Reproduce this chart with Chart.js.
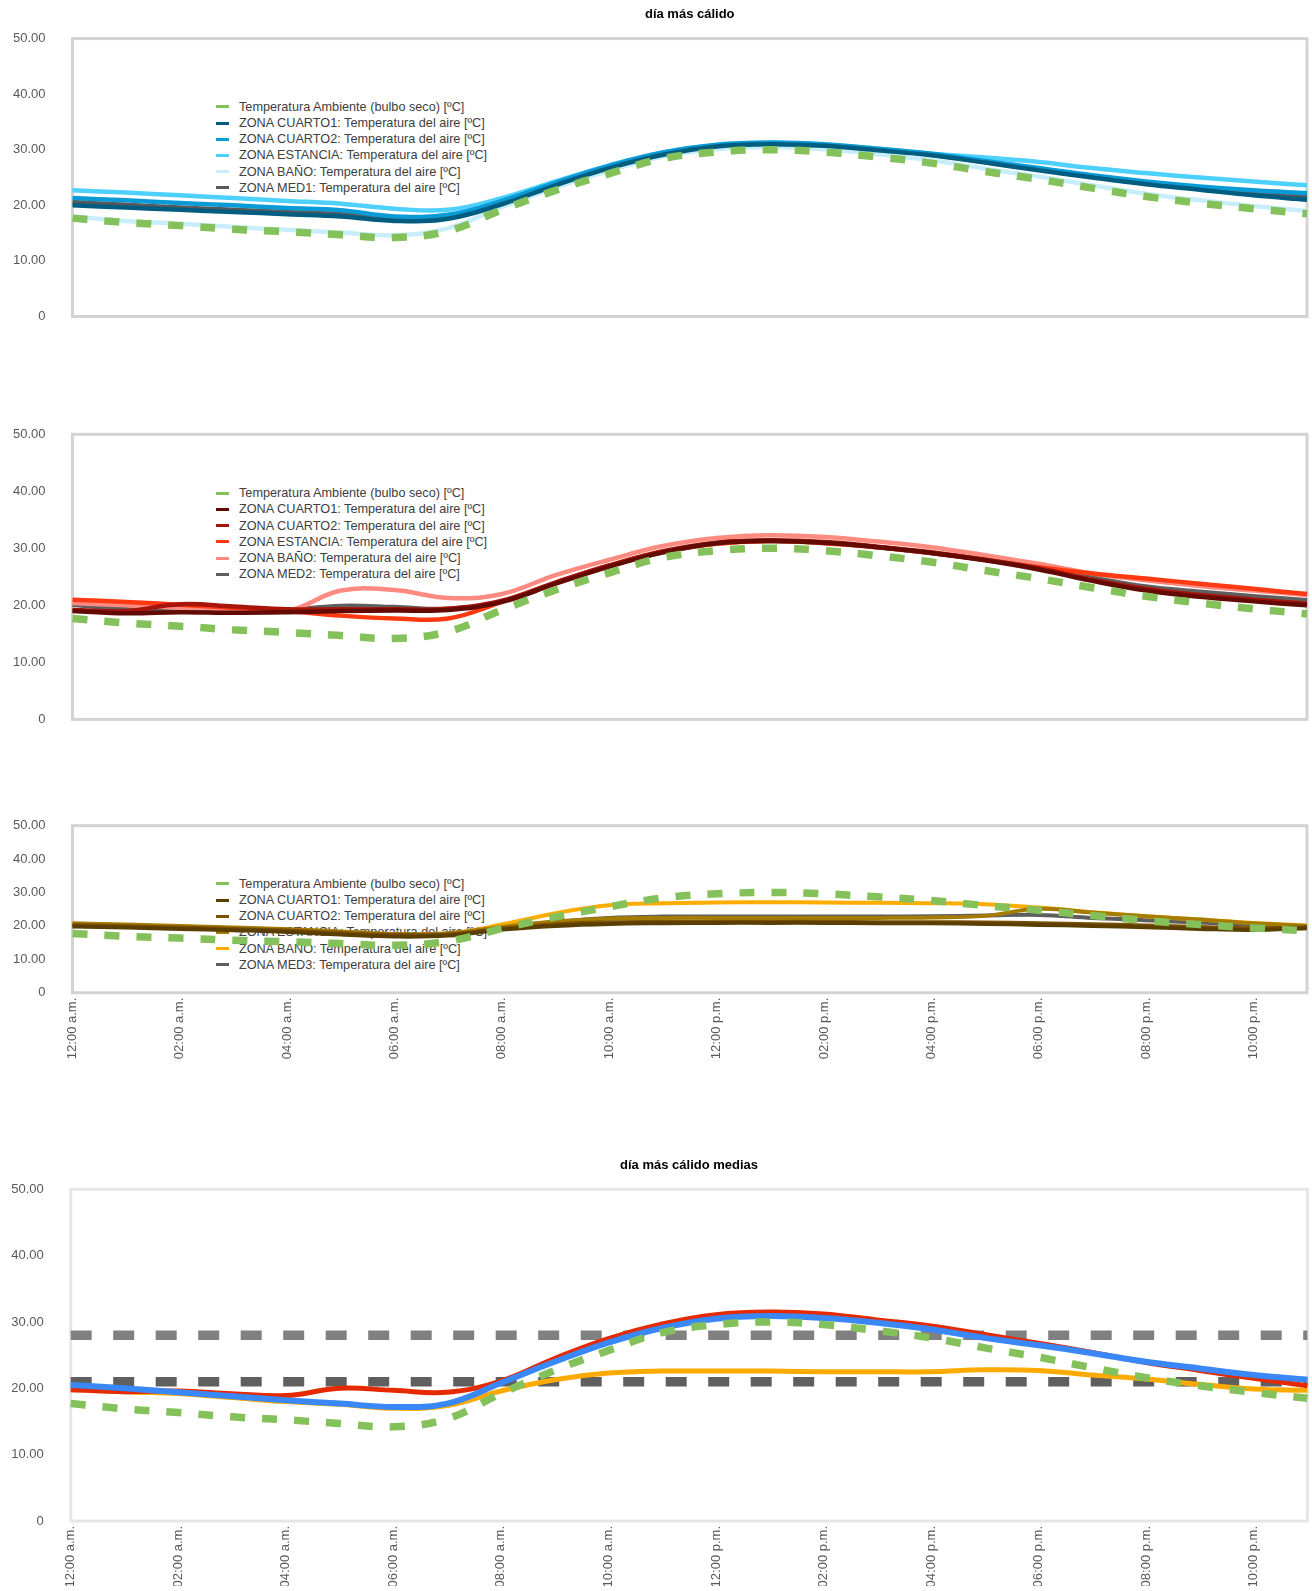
<!DOCTYPE html>
<html lang="es">
<head>
<meta charset="utf-8">
<title>día más cálido</title>
<script src="https://cdn.jsdelivr.net/npm/chart.js@4.4.1/dist/chart.umd.min.js"></script>
<style>
  html, body { margin: 0; padding: 0; background: #fff; }
  body { width: 1312px; height: 1591px; position: relative; overflow: hidden;
         font-family: 'Liberation Sans', Arial, Helvetica, sans-serif; }
  .panel { position: absolute; left: 0; width: 1312px; }
  .panel canvas { position: absolute; left: 0; top: 0; z-index: 1; }
  .legend { position: absolute; z-index: 0; font-size: 12.7px; color: #404040; }
  .legend div { position: relative; height: 16.2px; line-height: 16.2px; padding-left: 23px; white-space: nowrap; }
  .legend span { position: absolute; left: 0; top: 6.6px; width: 13px; height: 3px; }
</style>
</head>
<body>

<div class="panel" id="p1" style="top:0;height:330px;">
  <div class="legend" id="lg1" style="left:216px;top:98.9px;"></div>
  <canvas id="c1" width="1312" height="330"></canvas>
</div>
<div class="panel" id="p2" style="top:410px;height:320px;">
  <div class="legend" id="lg2" style="left:216px;top:75.2px;"></div>
  <canvas id="c2" width="1312" height="320"></canvas>
</div>
<div class="panel" id="p3" style="top:810px;height:260px;">
  <div class="legend" id="lg3" style="left:216px;top:65.9px;"></div>
  <canvas id="c3" width="1312" height="260"></canvas>
</div>
<div class="panel" id="p4" style="top:1140px;height:451px;">
  <canvas id="c4" width="1312" height="451"></canvas>
</div>

<script>
// Hourly time labels for the hottest day
const horas = [
  '12:00 a.m.', '01:00 a.m.', '02:00 a.m.', '03:00 a.m.', '04:00 a.m.', '05:00 a.m.',
  '06:00 a.m.', '07:00 a.m.', '08:00 a.m.', '09:00 a.m.', '10:00 a.m.', '11:00 a.m.',
  '12:00 p.m.', '01:00 p.m.', '02:00 p.m.', '03:00 p.m.', '04:00 p.m.', '05:00 p.m.',
  '06:00 p.m.', '07:00 p.m.', '08:00 p.m.', '09:00 p.m.', '10:00 p.m.', '11:00 p.m.'
];

// Outdoor dry-bulb temperature [ºC]
const tempAmbiente = [17.7, 16.9, 16.35, 15.7, 15.25, 14.7, 14.2, 15.4, 19.2, 22.7, 25.7, 28.4,
                      29.6, 30.0, 29.6, 28.7, 27.6, 26.1, 24.7, 23.1, 21.6, 20.4, 19.4, 18.5];

// Dwelling 1 zones [ºC]
const v1Cuarto1  = [20.0, 19.6, 19.2, 18.8, 18.4, 18.0, 17.2, 17.6, 20.2, 23.6, 26.7, 29.1,
                    30.6, 31.0, 30.7, 29.9, 29.0, 27.7, 26.3, 25.0, 23.8, 22.8, 21.8, 21.0];
const v1Cuarto2  = [21.3, 20.9, 20.4, 20.0, 19.5, 19.1, 18.0, 18.3, 20.8, 24.1, 27.1, 29.5,
                    30.9, 31.3, 31.0, 30.2, 29.3, 28.0, 26.7, 25.4, 24.3, 23.4, 22.7, 22.2];
const v1Estancia = [22.7, 22.3, 21.8, 21.3, 20.8, 20.3, 19.4, 19.2, 21.3, 24.3, 27.2, 29.5,
                    30.8, 31.2, 30.9, 30.2, 29.3, 28.6, 27.8, 26.7, 25.8, 25.0, 24.3, 23.6];
const v1Bano     = [18.0, 17.2, 16.7, 16.1, 15.6, 15.1, 14.6, 15.9, 19.7, 23.2, 26.2, 28.8,
                    30.1, 30.5, 30.1, 29.2, 28.1, 26.6, 25.2, 23.6, 22.1, 20.9, 19.9, 19.0];
const v1Med      = [20.6, 20.1, 19.6, 19.2, 18.8, 18.4, 17.6, 17.9, 20.4, 23.8, 26.9, 29.3,
                    30.7, 31.1, 30.8, 30.0, 29.1, 27.8, 26.5, 25.2, 24.1, 23.1, 22.2, 21.6];

// Dwelling 2 zones [ºC]
const v2Cuarto1  = [19.0, 18.6, 18.8, 18.7, 18.8, 19.0, 19.1, 19.2, 20.6, 23.8, 26.8, 29.3,
                    30.9, 31.3, 31.0, 30.2, 29.2, 27.9, 26.3, 24.3, 22.6, 21.5, 20.7, 20.0];
const v2Cuarto2  = [19.2, 19.0, 20.2, 19.8, 19.3, 19.3, 19.3, 19.4, 20.8, 24.0, 27.0, 29.5,
                    31.0, 31.4, 31.1, 30.3, 29.3, 28.0, 26.5, 24.5, 22.9, 21.8, 21.0, 20.3];
const v2Estancia = [21.0, 20.6, 20.1, 19.6, 19.0, 18.2, 17.7, 17.7, 20.6, 24.0, 27.0, 29.4,
                    30.8, 31.3, 30.9, 30.2, 29.2, 28.0, 26.7, 25.6, 24.7, 23.8, 22.9, 22.0];
const v2Bano     = [20.4, 20.0, 19.6, 19.3, 19.0, 22.6, 22.7, 21.3, 22.0, 25.3, 28.0, 30.4,
                    31.8, 32.3, 32.0, 31.2, 30.2, 28.8, 27.3, 25.6, 24.4, 23.4, 22.6, 21.8];
const v2Med      = [20.1, 19.3, 18.9, 19.0, 19.2, 19.9, 19.7, 19.4, 20.7, 23.9, 26.9, 29.3,
                    30.9, 31.3, 31.0, 30.2, 29.2, 28.0, 26.7, 24.9, 23.3, 22.4, 21.6, 20.9];

// Dwelling 3 zones [ºC]
const v3Cuarto1  = [19.8, 19.5, 19.1, 18.7, 18.2, 17.4, 16.8, 17.1, 18.9, 20.0, 20.6, 20.8,
                    20.9, 20.9, 20.9, 20.8, 20.8, 20.6, 20.3, 20.0, 19.6, 19.1, 18.8, 19.3];
const v3Cuarto2  = [20.3, 19.9, 19.5, 19.1, 18.6, 17.9, 17.3, 17.4, 19.2, 20.5, 21.1, 21.2,
                    21.2, 21.2, 21.2, 21.1, 21.1, 21.0, 20.8, 20.5, 20.1, 19.7, 19.3, 19.6];
const v3Estancia = [20.8, 20.4, 20.0, 19.5, 19.0, 18.3, 17.6, 17.8, 19.7, 21.3, 22.2, 22.4,
                    22.4, 22.4, 22.4, 22.4, 22.5, 23.0, 25.1, 24.0, 22.9, 21.9, 20.8, 20.0];
const v3Bano     = [20.6, 20.2, 19.8, 19.3, 18.8, 18.1, 17.3, 17.6, 20.4, 23.8, 26.2, 26.8,
                    27.0, 27.1, 27.0, 26.9, 26.8, 26.5, 25.5, 24.1, 22.9, 21.9, 20.9, 20.1];
const v3Med      = [20.4, 20.0, 19.6, 19.1, 18.6, 18.0, 17.4, 17.6, 19.6, 21.2, 22.4, 22.8,
                    22.8, 22.8, 22.8, 22.8, 22.9, 23.1, 23.3, 22.4, 21.7, 21.0, 20.3, 19.8];

// Mean zone temperature of each dwelling [ºC]
const mediaV1 = [20.5, 20.0, 19.4, 18.8, 18.2, 17.7, 17.2, 17.7, 20.8, 24.0, 26.9, 29.1,
                 30.5, 30.9, 30.6, 29.9, 28.9, 27.6, 26.5, 25.3, 24.0, 23.0, 22.0, 21.3];
const mediaV2 = [19.8, 19.5, 19.6, 19.2, 18.9, 20.0, 19.7, 19.4, 21.1, 24.5, 27.5, 29.7,
                 31.1, 31.5, 31.2, 30.3, 29.4, 28.1, 26.8, 25.4, 23.9, 22.7, 21.5, 20.4];
const mediaV3 = [20.0, 19.5, 19.2, 18.6, 18.0, 17.6, 17.0, 17.4, 19.6, 21.3, 22.3, 22.6,
                 22.6, 22.6, 22.5, 22.5, 22.5, 22.8, 22.7, 22.0, 21.4, 20.6, 19.9, 19.7];

// Comfort band limits [ºC]
const confortMax = 28;
const confortMin = 21;

// Y axis ticks
const ejeY = { min: 0, max: 50, paso: 10 };

Chart.defaults.font.family = "'Liberation Sans', Arial, Helvetica, sans-serif";
Chart.defaults.animation = false;

// Frame around the plot area
const marco = {
  id: 'marco',
  beforeDatasetsDraw(chart, args, opts) {
    const { left, top, right, bottom } = chart.chartArea;
    const ctx = chart.ctx;
    ctx.save();
    ctx.strokeStyle = opts.color;
    ctx.lineWidth = opts.width;
    ctx.strokeRect(left, top, right - left, bottom - top);
    ctx.restore();
  }
};

function serieAmbiente() {
  return {
    label: 'Temperatura Ambiente (bulbo seco) [ºC]',
    data: tempAmbiente,
    borderColor: '#84c15a',
    backgroundColor: '#84c15a',
    borderWidth: 7.5,
    borderDash: [15, 17],
    borderCapStyle: 'butt'
  };
}

function serie(label, data, color, width) {
  return { label, data, borderColor: color, backgroundColor: color, borderWidth: width || 4.5 };
}

function escalaY(ancho) {
  return {
    min: ejeY.min, max: ejeY.max,
    ticks: {
      stepSize: ejeY.paso, padding: 27, color: '#595959', font: { size: 13 },
      callback: v => v === 0 ? '0' : v.toFixed(2)
    },
    grid: { display: false, drawTicks: false },
    border: { display: false },
    afterFit(s) { s.width = ancho; s.paddingTop = 0; s.paddingBottom = 0; }
  };
}

function escalaX(visible, alto) {
  if (!visible) return { display: false };
  return {
    ticks: {
      autoSkip: false, maxRotation: 90, minRotation: 90, padding: 5,
      color: '#595959', font: { size: 13 },
      callback(value, index) { return index % 2 === 0 ? this.getLabelForValue(value) : ''; }
    },
    grid: { display: false, drawTicks: false },
    border: { display: false },
    afterFit(s) { s.height = alto; s.paddingLeft = 0; s.paddingRight = 0; }
  };
}

function crear(id, datasets, opt) {
  return new Chart(document.getElementById(id), {
    type: 'line',
    data: { labels: horas, datasets },
    options: {
      responsive: false,
      devicePixelRatio: 1,
      elements: { point: { radius: 0, hoverRadius: 0 }, line: { tension: 0.4 } },
      layout: { padding: opt.padding },
      scales: { x: escalaX(opt.ejeX, opt.altoX), y: escalaY(opt.anchoY) },
      plugins: {
        legend: { display: false },
        tooltip: { enabled: false },
        title: opt.titulo ? {
          display: true, text: opt.titulo, color: '#000', fullSize: false,
          font: { size: 13, weight: 'bold' }, padding: opt.tituloPad
        } : { display: false },
        marco: { color: opt.colorMarco, width: 3 }
      }
    },
    plugins: [marco]
  });
}

function leyenda(id, datasets) {
  const el = document.getElementById(id);
  datasets.forEach(ds => {
    const fila = document.createElement('div');
    const muestra = document.createElement('span');
    muestra.style.background = ds.borderColor;
    fila.appendChild(muestra);
    fila.appendChild(document.createTextNode(ds.label));
    el.appendChild(fila);
  });
}

// Panel 1
const ds1 = [
  serieAmbiente(),
  serie('ZONA CUARTO1: Temperatura del aire [ºC]', v1Cuarto1, '#005d80'),
  serie('ZONA CUARTO2: Temperatura del aire [ºC]', v1Cuarto2, '#0a9bd6'),
  serie('ZONA ESTANCIA: Temperatura del aire [ºC]', v1Estancia, '#4dd0fb'),
  serie('ZONA BAÑO: Temperatura del aire [ºC]', v1Bano, '#c8eefb'),
  serie('ZONA MED1: Temperatura del aire [ºC]', v1Med, '#595959')
];
leyenda('lg1', ds1);
crear('c1', ds1, {
  titulo: 'día más cálido', tituloPad: { top: 7, bottom: 16 },
  padding: { left: 0, right: 5, top: 0, bottom: 13.5 },
  anchoY: 72.5, ejeX: false, colorMarco: '#d3d3d3'
});

// Panel 2
const ds2 = [
  serieAmbiente(),
  serie('ZONA CUARTO1: Temperatura del aire [ºC]', v2Cuarto1, '#630a04'),
  serie('ZONA CUARTO2: Temperatura del aire [ºC]', v2Cuarto2, '#a8140a'),
  serie('ZONA ESTANCIA: Temperatura del aire [ºC]', v2Estancia, '#ff3a12'),
  serie('ZONA BAÑO: Temperatura del aire [ºC]', v2Bano, '#ff8b80'),
  serie('ZONA MED2: Temperatura del aire [ºC]', v2Med, '#5e5e5e')
];
leyenda('lg2', ds2);
crear('c2', ds2, {
  padding: { left: 0, right: 5, top: 24.3, bottom: 10.6 },
  anchoY: 72.5, ejeX: false, colorMarco: '#d3d3d3'
});

// Panel 3
const ds3 = [
  serieAmbiente(),
  serie('ZONA CUARTO1: Temperatura del aire [ºC]', v3Cuarto1, '#5a3f00', 4),
  serie('ZONA CUARTO2: Temperatura del aire [ºC]', v3Cuarto2, '#7d5000', 4),
  serie('ZONA ESTANCIA: Temperatura del aire [ºC]', v3Estancia, '#a57c00', 4),
  serie('ZONA BAÑO: Temperatura del aire [ºC]', v3Bano, '#ffac00', 4),
  serie('ZONA MED3: Temperatura del aire [ºC]', v3Med, '#5e5e5e', 4)
];
leyenda('lg3', ds3);
crear('c3', ds3, {
  padding: { left: 0, right: 5, top: 15.7, bottom: 7.3 },
  anchoY: 72.5, ejeX: true, altoX: 70, colorMarco: '#d3d3d3'
});

// Panel 4: averages and comfort band
const ds4 = [
  serieAmbiente(),
  serie('Media vivienda 1 [ºC]', mediaV1, '#3a88f8', 6),
  serie('Media vivienda 2 [ºC]', mediaV2, '#e52a00', 5),
  serie('Media vivienda 3 [ºC]', mediaV3, '#ffaa00', 5),
  { label: 'Límite superior confort [ºC]', data: horas.map(() => confortMax),
    borderColor: '#808080', borderWidth: 9.5, borderDash: [21, 21.5], borderCapStyle: 'butt', tension: 0 },
  { label: 'Límite inferior confort [ºC]', data: horas.map(() => confortMin),
    borderColor: '#5f5f5f', borderWidth: 9.5, borderDash: [21, 21.5], borderCapStyle: 'butt', tension: 0 }
];
crear('c4', ds4, {
  titulo: 'día más cálido medias', tituloPad: { top: 17.9, bottom: 15.8 },
  padding: { left: 0, right: 4.6, top: 0, bottom: 5 },
  anchoY: 70.7, ejeX: true, altoX: 65, colorMarco: '#e6e6e6'
});
</script>
</body>
</html>
